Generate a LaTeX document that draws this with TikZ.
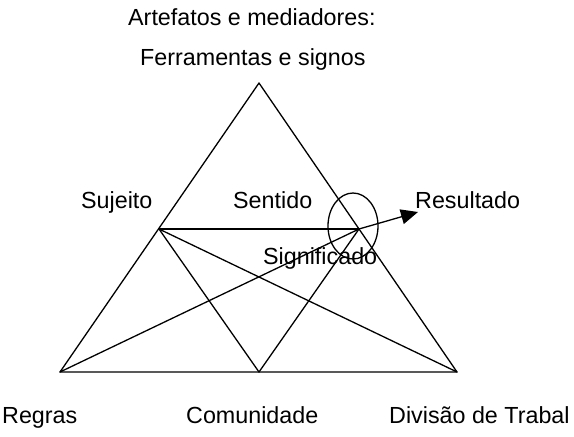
\documentclass[tikz,border=0pt]{standalone}
\usepackage{fontspec}
\setmainfont{Liberation Sans}
\usetikzlibrary{arrows.meta}
\begin{document}
\begin{tikzpicture}[x=1pt,y=-1pt,
  lbl/.style={inner sep=0pt, font=\fontsize{23.3}{28}\selectfont, anchor=base west},
  edge/.style={line width=1.3pt, line cap=round, line join=round}]
\useasboundingbox (0,0) rectangle (574,437);
\coordinate (A) at (259,83);
\coordinate (L) at (60,372);
\coordinate (M) at (259,372);
\coordinate (R) at (457,372);
\coordinate (S) at (159,229);
\coordinate (P) at (359,229);
\coordinate (T) at (418,212);
\draw[edge] (A) -- (L) -- (R) -- cycle;
\draw[edge] (S) -- (P);
\draw[edge] (S) -- (M) -- (P);
\draw[edge] (S) -- (R);
\draw[edge] (L) -- (P);
\draw[edge,-{Triangle[length=17pt,width=15pt]}] (P) -- (T);
\draw[line width=1.3pt] (353,226) ellipse [x radius=25pt, y radius=33pt];
\node[lbl] (art) at (128,25) {Artefatos e mediadores:};
\node[lbl] (fer) at (140,65) {Ferramentas e signos};
\node[lbl] (suj) at (81,208) {Sujeito};
\node[lbl] (sen) at (233,208) {Sentido};
\node[lbl] (res) at (415,208) {Resultado};
\node[lbl] (sig) at (263,264) {Significado};
\node[lbl] (reg) at (2,423) {Regras};
\node[lbl] (com) at (186,423) {Comunidade};
\node[lbl] (div) at (389,423) {Divisão de Trabal};
\end{tikzpicture}
\end{document}
